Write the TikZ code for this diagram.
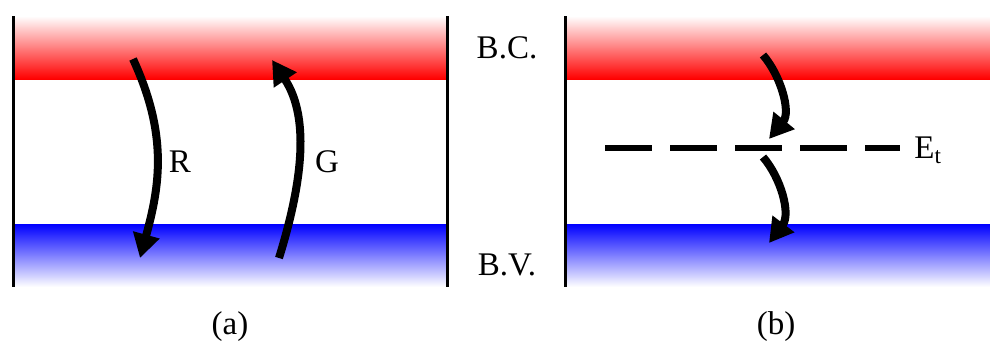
\documentclass[tikz,border=0pt]{standalone}
\usepackage{fontspec}
\setmainfont{Liberation Serif}
\usepackage{tikz}
\usetikzlibrary{arrows.meta,positioning,calc}
\tikzstyle{cband} = [top color=white, bottom color=red]
\tikzstyle{vband} = [top color=blue, bottom color=white]
\tikzstyle{wall} = [line width=1.5pt]
\tikzstyle{trans} = [line width=4pt, -{Triangle[length=12pt,width=13pt]}]
\tikzstyle{lbl} = [font=\fontsize{16.5}{20}\selectfont, inner sep=0pt]

\begin{document}
\begin{tikzpicture}[x=0.5pt, y=-0.5pt]
    \useasboundingbox (0,0) rectangle (990,343);
    % Bands
    \shade [cband] (13,16) rectangle (447,79);
    \shade [vband] (13,224) rectangle (447,287);
    \shade [cband] (565,16) rectangle (990,79);
    \shade [vband] (565,224) rectangle (990,287);
    \draw [wall] (13,16) -- (13,287);
    \draw [wall] (447,16) -- (447,287);
    \draw [wall] (565,16) -- (565,287);
    % Labels
    \node [lbl] (bc) at (507,48) {B.C.};
    \node [lbl] (bv) at (507,265) {B.V.};
    \node [lbl] (pa) at (230,327) {(a)};
    \node [lbl] (pb) at (776,327) {(b)};
    \node [lbl] (r) at (180,162) {R};
    \node [lbl] (g) at (327,162) {G};
    % Trap level
    \coordinate (trapl) at (605,148);
    \coordinate (trapr) at (900,148);
    \node [lbl, anchor=west] (et) at (914,150) {E\textsubscript{t}};
    \draw [line width=2.8pt, dash pattern=on 23.5pt off 9pt] (trapl) -- (trapr);
    % Arrows
    \coordinate (rtop) at (133,59);
    \coordinate (rbot) at (140,258);
    \coordinate (gbot) at (279,258);
    \coordinate (gtop) at (272,60);
    \coordinate (ctop) at (763,55);
    \coordinate (tin) at (769,139);
    \coordinate (tout) at (763,157);
    \coordinate (vbot) at (769,243);
    \draw [trans] (rtop) .. controls (168,135) and (160,185) .. (rbot);
    \draw [trans] (gbot) .. controls (300,190) and (312,120) .. (gtop);
    \draw [trans] (ctop) .. controls (781,76) and (791,112) .. (tin);
    \draw [trans] (tout) .. controls (781,178) and (791,214) .. (vbot);
\end{tikzpicture}
\end{document}
